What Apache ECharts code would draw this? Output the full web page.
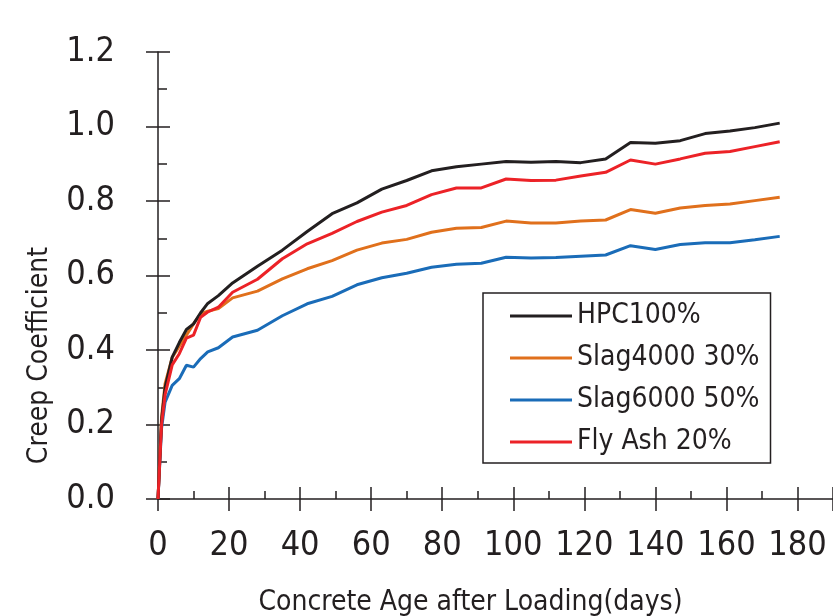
<!DOCTYPE html>
<html>
<head>
<meta charset="utf-8">
<title>Creep Coefficient</title>
<script src="https://cdn.jsdelivr.net/npm/echarts@6/dist/echarts.min.js"></script>
<style>
  html, body { margin: 0; padding: 0; background: #fff; }
  #chart { width: 833px; height: 616px; }
</style>
</head>
<body>
<div id="chart"></div>
<script>
// age after loading (days)
var days = [0, 1, 2, 4, 6, 8, 10, 12, 14, 17, 21, 28, 35, 42, 49, 56, 63, 70, 77, 84,
            91, 98, 105, 112, 119, 126, 133, 140, 147, 154, 161, 168, 175];

// creep coefficient of each mix
var hpc100 = [0, 0.21, 0.30, 0.381, 0.42, 0.455, 0.47, 0.50, 0.525, 0.546, 0.58, 0.625, 0.668, 0.718,
              0.766, 0.795, 0.832, 0.855, 0.881, 0.892, 0.899, 0.906, 0.904, 0.906, 0.903, 0.913,
              0.957, 0.955, 0.962, 0.981, 0.988, 0.997, 1.009];
var slag4000 = [0, 0.22, 0.31, 0.38, 0.41, 0.44, 0.47, 0.497, 0.504, 0.511, 0.54, 0.558, 0.591, 0.618,
                0.640, 0.668, 0.687, 0.697, 0.716, 0.727, 0.729, 0.746, 0.741, 0.741, 0.746, 0.749,
                0.777, 0.767, 0.781, 0.788, 0.792, 0.801, 0.810];
var slag6000 = [0, 0.19, 0.26, 0.305, 0.323, 0.359, 0.354, 0.377, 0.395, 0.406, 0.435, 0.453, 0.492, 0.524,
                0.544, 0.575, 0.594, 0.606, 0.622, 0.630, 0.633, 0.649, 0.647, 0.648, 0.652, 0.655,
                0.680, 0.670, 0.683, 0.688, 0.688, 0.696, 0.705];
var flyAsh = [0, 0.20, 0.28, 0.36, 0.39, 0.432, 0.44, 0.488, 0.502, 0.515, 0.555, 0.59, 0.645, 0.685,
              0.713, 0.745, 0.770, 0.788, 0.817, 0.835, 0.835, 0.859, 0.855, 0.856, 0.867, 0.877,
              0.910, 0.899, 0.913, 0.928, 0.933, 0.946, 0.959];

var seriesNames = ['HPC100%', 'Slag4000 30%', 'Slag6000 50%', 'Fly Ash 20%'];
var seriesColors = ['#231f20', '#e0701c', '#1a6cb8', '#ec2227'];
var seriesValues = [hpc100, slag4000, slag6000, flyAsh];

var ink = '#231f20';
// condensed sans, falls back if the narrow face is missing
var font = "'DejaVu Sans Condensed', 'Liberation Sans Narrow', sans-serif";

function pairs(values) {
    return days.map(function(d, i) { return [d, values[i]]; });
}

var series = seriesNames.map(function(name, i) {
    return {
        name: name,
        type: 'line',
        xAxisIndex: 0,
        yAxisIndex: 0,
        data: pairs(seriesValues[i]),
        symbol: 'none',
        lineStyle: { color: seriesColors[i], width: 3 },
        itemStyle: { color: seriesColors[i] },
        z: 10 - i
    };
});
// red line sits above the black one at the start
series[3].z = 12;

var myChart = echarts.init(document.getElementById('chart'));
myChart.setOption({
    animation: false,
    backgroundColor: '#fff',
    // fixed plot box, don't let v6 shrink it to fit the labels
    grid: { left: 158, top: 52, right: 0, bottom: 117, outerBoundsMode: 'none' },
    legend: {
        orient: 'vertical',
        left: 483,
        top: 293,
        data: seriesNames,
        icon: 'rect',
        borderColor: ink,
        borderWidth: 1.5,
        padding: [7, 11, 5, 27],
        itemWidth: 62,
        itemHeight: 3,
        itemGap: 10,
        textStyle: { fontFamily: font, fontSize: 28, lineHeight: 32, color: ink }
    },
    xAxis: [{
        type: 'value',
        min: 0,
        max: 190,
        interval: 20,
        name: 'Concrete Age after Loading(days)',
        nameLocation: 'middle',
        nameGap: 90,
        nameTextStyle: { fontFamily: font, fontSize: 28, color: ink, padding: [0, 50, 0, 0] },
        axisLine: { lineStyle: { color: ink, width: 1.5 } },
        axisTick: { inside: true, length: 12, lineStyle: { color: ink, width: 1.5 } },
        minorTick: { show: true, splitNumber: 2, length: 8, lineStyle: { color: ink, width: 1.5 } },
        axisLabel: { fontFamily: font, fontSize: 34, color: ink, margin: 30, showMaxLabel: false },
        splitLine: { show: false }
    }, {
        // outer half of the crossing major ticks
        type: 'value',
        position: 'bottom',
        min: 0,
        max: 190,
        interval: 20,
        axisLine: { show: false },
        axisTick: { inside: false, length: 12, lineStyle: { color: ink, width: 1.5 } },
        axisLabel: { show: false },
        splitLine: { show: false }
    }],
    yAxis: [{
        type: 'value',
        min: 0,
        max: 1.2,
        interval: 0.2,
        name: 'Creep Coefficient',
        nameLocation: 'middle',
        nameGap: 104,
        nameTextStyle: { fontFamily: font, fontSize: 28, color: ink, padding: [0, 160, 0, 0] },
        axisLine: { show: true, lineStyle: { color: ink, width: 1.5 } },
        axisTick: { show: true, inside: true, length: 12, lineStyle: { color: ink, width: 1.5 } },
        minorTick: { show: true, splitNumber: 2, length: 9, lineStyle: { color: ink, width: 1.5 } },
        axisLabel: {
            fontFamily: font, fontSize: 34, color: ink, margin: 43,
            formatter: function(v) { return v.toFixed(1); }
        },
        splitLine: { show: false }
    }, {
        type: 'value',
        position: 'left',
        min: 0,
        max: 1.2,
        interval: 0.2,
        axisLine: { show: false },
        axisTick: { show: true, inside: false, length: 12, lineStyle: { color: ink, width: 1.5 } },
        axisLabel: { show: false },
        splitLine: { show: false }
    }],
    series: series
});
</script>
</body>
</html>
